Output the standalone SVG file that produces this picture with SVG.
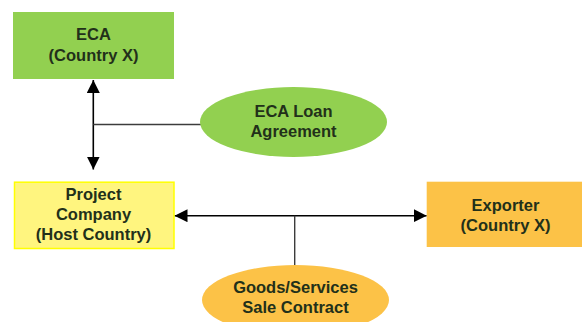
<svg xmlns="http://www.w3.org/2000/svg" width="582" height="322" viewBox="0 0 582 322">
  <defs>
    <marker id="arrow" viewBox="0 0 13 13" refX="13" refY="6.5" markerWidth="13" markerHeight="13" markerUnits="userSpaceOnUse" orient="auto-start-reverse">
      <path d="M0,0 L13,6.5 L0,13 Z" fill="#000"/>
    </marker>
    <style>
      text { font-family: "Liberation Sans", Arial, sans-serif; font-size: 16.5px; font-weight: bold; fill: #22301a; text-anchor: middle; }
      .green { fill: #92d050; }
      .orange { fill: #fcc247; }
      .yellow { fill: #fff57f; stroke: #ffff00; stroke-width: 1.5; }
      .link { stroke: #000; stroke-width: 1.6; fill: none; }
      .tap { stroke: #3c3c3c; stroke-width: 1.4; fill: none; }
    </style>
  </defs>

  <rect width="582" height="322" fill="#ffffff"/>

  <!-- connectors -->
  <g id="connectors">
    <line class="link" x1="93.3" y1="80" x2="93.3" y2="169.5" marker-start="url(#arrow)" marker-end="url(#arrow)"/>
    <line class="tap" x1="93.3" y1="124.5" x2="201" y2="124.5"/>
    <line class="link" x1="174.5" y1="215.7" x2="426.7" y2="215.7" marker-start="url(#arrow)" marker-end="url(#arrow)"/>
    <line class="tap" x1="294.7" y1="215.7" x2="294.7" y2="266"/>
  </g>

  <!-- ECA -->
  <g id="eca">
    <rect class="green" x="13" y="12" width="161" height="67"/>
    <text x="93.5" y="39.5">ECA</text>
    <text x="93.5" y="61">(Country X)</text>
  </g>

  <!-- ECA loan agreement -->
  <g id="eca-loan">
    <ellipse class="green" cx="293.5" cy="122" rx="93.5" ry="35"/>
    <text x="293.5" y="117">ECA Loan</text>
    <text x="293.5" y="137">Agreement</text>
  </g>

  <!-- Project company -->
  <g id="project-company">
    <rect class="yellow" x="14.5" y="182.2" width="159.5" height="66.3"/>
    <text x="93.5" y="200">Project</text>
    <text x="93.5" y="220">Company</text>
    <text x="93.5" y="240">(Host Country)</text>
  </g>

  <!-- Exporter -->
  <g id="exporter">
    <rect class="orange" x="426.7" y="181.7" width="160" height="65.3"/>
    <text x="505.5" y="211">Exporter</text>
    <text x="505.5" y="231">(Country X)</text>
  </g>

  <!-- Goods/services sale contract -->
  <g id="sale-contract">
    <ellipse class="orange" cx="295.5" cy="300" rx="93.5" ry="35"/>
    <text x="295.5" y="293">Goods/Services</text>
    <text x="295.5" y="313">Sale Contract</text>
  </g>
</svg>
